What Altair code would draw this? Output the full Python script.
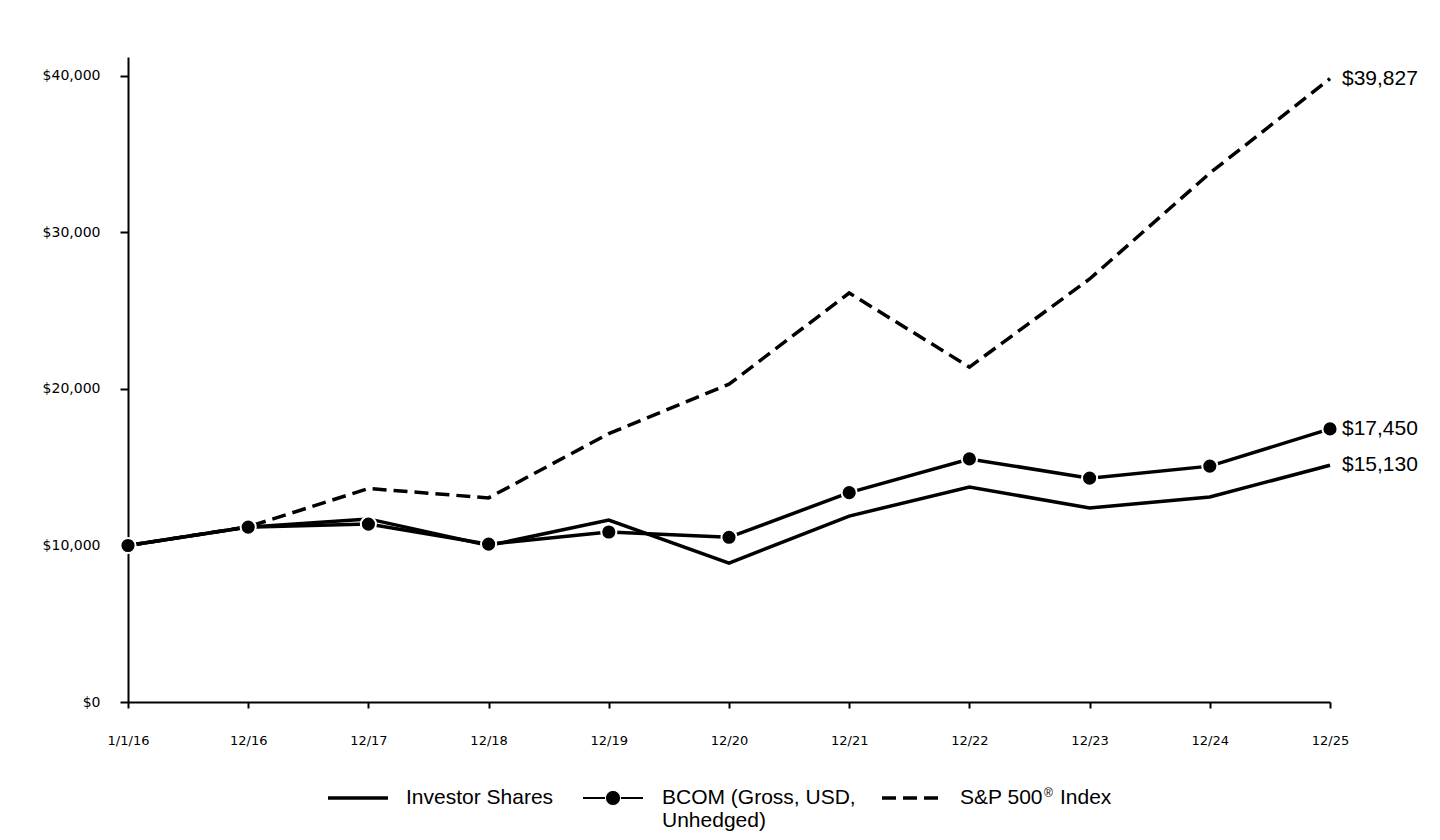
import altair as alt
import pandas as pd

dates = ["1/1/16", "12/16", "12/17", "12/18", "12/19", "12/20",
         "12/21", "12/22", "12/23", "12/24", "12/25"]
investor = [10000, 11180, 11700, 10000, 11630, 8880, 11880, 13740, 12400, 13100, 15130]
bcom = [10000, 11177, 11367, 10088, 10864, 10525, 13378, 15531, 14303, 15072, 17450]
sp500 = [10000, 11196, 13640, 13043, 17150, 20305, 26135, 21402, 27029, 33794, 39827]
y_ticks = [0, 10000, 20000, 30000, 40000]

FONT = "Liberation Sans"
AXFONT = "DejaVu Sans"

df_inv = pd.DataFrame({"date": dates, "value": investor})
df_bcom = pd.DataFrame({"date": dates, "value": bcom})
df_sp = pd.DataFrame({"date": dates, "value": sp500})
df_end = pd.DataFrame({
    "date": [dates[-1]] * 3,
    "value": [sp500[-1], bcom[-1], investor[-1]],
    "label": ["$" + format(v, ",") for v in [sp500[-1], bcom[-1], investor[-1]]],
})

x_enc = alt.X("date:O", sort=dates,
              scale=alt.Scale(type="point", padding=0),
              axis=alt.Axis(title=None, labelAngle=0, labelFontSize=13,
                            labelFont=AXFONT, labelColor="black",
                            labelPadding=26, tickSize=6, tickColor="black",
                            tickWidth=2, domainColor="black", domainWidth=2,
                            grid=False))
y_enc = alt.Y("value:Q",
              scale=alt.Scale(domain=[0, 41214], nice=False, zero=True),
              axis=alt.Axis(title=None, values=y_ticks, format="$,.0f",
                            labelFontSize=14, labelFont=AXFONT, labelColor="black",
                            labelPadding=20, tickSize=8, tickColor="black",
                            tickWidth=2, domainColor="black", domainWidth=2,
                            grid=False))

sp_line = alt.Chart(df_sp).mark_line(color="black", strokeWidth=3.5,
                                     strokeDash=[14, 7]).encode(x=x_enc, y=y_enc)
inv_line = alt.Chart(df_inv).mark_line(color="black", strokeWidth=3.5).encode(x=x_enc, y=y_enc)
bcom_line = alt.Chart(df_bcom).mark_line(color="black", strokeWidth=3.5).encode(x=x_enc, y=y_enc)
bcom_pts = alt.Chart(df_bcom).mark_point(filled=True, fill="black", stroke="white",
                                         strokeWidth=2, size=230, opacity=1).encode(x=x_enc, y=y_enc)
end_labels = alt.Chart(df_end).mark_text(align="left", baseline="middle", dx=12,
                                         fontSize=21, font=FONT, color="black").encode(
    x=x_enc, y=y_enc, text="label:N")

one = pd.DataFrame({"a": [0]})
LY = 741
leg_inv = alt.Chart(one).mark_rule(color="black", strokeWidth=3.5).encode(
    x=alt.value(200), x2=alt.value(260), y=alt.value(LY))
leg_bcom = alt.Chart(one).mark_rule(color="black", strokeWidth=2).encode(
    x=alt.value(455), x2=alt.value(515), y=alt.value(LY))
leg_bcom_pt = alt.Chart(one).mark_point(filled=True, fill="black", stroke="white",
                                        strokeWidth=1, size=230, opacity=1).encode(
    x=alt.value(485), y=alt.value(LY))
leg_sp = alt.Chart(one).mark_rule(color="black", strokeWidth=3.5, strokeDash=[14, 7]).encode(
    x=alt.value(754), x2=alt.value(814), y=alt.value(LY))

def txt(s, x, y, size=21, dy=0):
    return alt.Chart(one).mark_text(align="left", baseline="middle", fontSize=size,
                                    font=FONT, color="black", dy=dy).encode(
        x=alt.value(x), y=alt.value(y), text=alt.value(s))

leg_texts = [
    txt("Investor Shares", 278, LY),
    txt("BCOM (Gross, USD,", 534, LY),
    txt("Unhedged)", 534, LY + 23),
    txt("S&P 500", 832, LY),
    txt("®", 916, LY - 5, size=12),
    txt("Index", 932, LY),
]

chart = alt.layer(
    sp_line, inv_line, bcom_line, bcom_pts, end_labels,
    leg_inv, leg_bcom, leg_bcom_pt, leg_sp, *leg_texts
).properties(
    width=1202, height=645,
    background="white",
    autosize=alt.AutoSizeParams(type="none"),
    padding={"left": 120, "top": 49, "right": 100, "bottom": 130},
).configure_view(strokeWidth=0)

chart.save("out.html", embed_options={"renderer": "svg", "actions": False})
